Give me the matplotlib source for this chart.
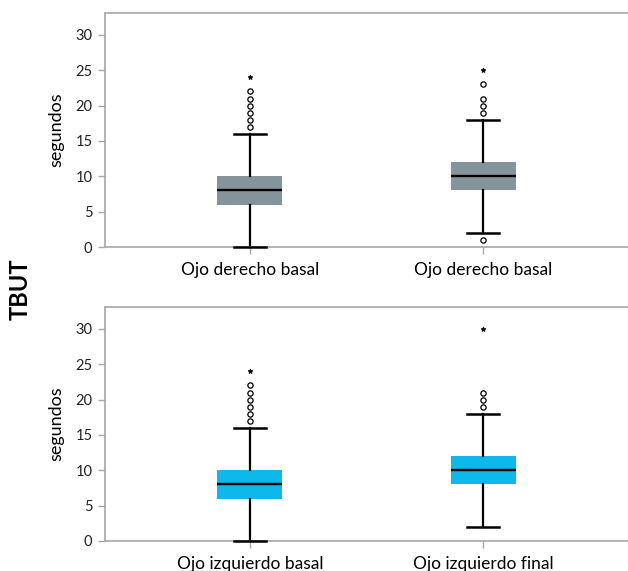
import matplotlib
matplotlib.use("Agg")
import matplotlib.pyplot as plt

plt.rcParams['font.family'] = ['Lato', 'DejaVu Sans']

# Data
top_labels = ["Ojo derecho basal", "Ojo derecho basal"]
bottom_labels = ["Ojo izquierdo basal", "Ojo izquierdo final"]

top_whislo = [0, 2]
top_q1 = [6, 8]
top_med = [8, 10]
top_q3 = [10, 12]
top_whishi = [16, 18]
top_outliers = [[17, 18, 19, 20, 21, 22], [1, 19, 20, 21, 23]]
top_extremes = [[24], [25]]

bot_whislo = [0, 2]
bot_q1 = [6, 8]
bot_med = [8, 10]
bot_q3 = [10, 12]
bot_whishi = [16, 18]
bot_outliers = [[17, 18, 19, 20, 21, 22], [19, 20, 21]]
bot_extremes = [[24], [30]]

yticks = [0, 5, 10, 15, 20, 25, 30]
gray_col = "#85939b"
blue_col = "#0db8eb"
spine_col = "#a6a6a6"

W, H = 628, 571
fig = plt.figure(figsize=(W / 100, H / 100), dpi=100)

def panel(rect, labels, wlo, q1, med, q3, whi, outs, extr, color):
    ax = fig.add_axes(rect)
    stats = []
    for i in range(len(labels)):
        stats.append(dict(label=labels[i], whislo=wlo[i], q1=q1[i], med=med[i],
                          q3=q3[i], whishi=whi[i], fliers=outs[i]))
    pos = list(range(1, len(labels) + 1))
    art = ax.bxp(stats, positions=pos, widths=0.277, patch_artist=True, showfliers=True,
                 capwidths=0.137,
                 boxprops=dict(facecolor=color, edgecolor=color, linewidth=0),
                 medianprops=dict(color="black", linewidth=1.7),
                 whiskerprops=dict(color="black", linewidth=1.6),
                 capprops=dict(color="black", linewidth=1.8),
                 flierprops=dict(marker='o', markersize=3.8, markerfacecolor='white',
                                 markeredgecolor='black', markeredgewidth=0.9,
                                 linestyle='none'))
    for c in art['caps']:
        c.set_clip_on(False)
        c.set_zorder(5)
    for i, ex in enumerate(extr):
        ax.plot([pos[i]] * len(ex), ex, linestyle='none', marker=(5, 1, 0),
                markersize=3.6, color='black', markeredgewidth=0.5)
    ax.set_xlim(0.38, 2.62)
    ax.set_ylim(0, 33.1)
    ax.set_yticks(yticks)
    ax.set_yticklabels([str(t) for t in yticks], fontsize=10.5, color="#222222")
    ax.set_xticks(pos)
    ax.set_xticklabels(labels, fontsize=12.5, color="black")
    ax.tick_params(axis='both', color=spine_col, length=5, width=1)
    ax.tick_params(axis='x', pad=6)
    ax.tick_params(axis='y', pad=4)
    for s in ['left', 'bottom', 'top']:
        ax.spines[s].set_color(spine_col)
        ax.spines[s].set_linewidth(1.2)
    ax.spines['right'].set_visible(False)
    ax.set_ylabel("segundos", fontsize=13, labelpad=8)
    return ax

left = 105 / W
panel([left, 1 - 247 / H, 1 - left, (247 - 13) / H], top_labels,
      top_whislo, top_q1, top_med, top_q3, top_whishi, top_outliers, top_extremes, gray_col)
panel([left, 1 - 541 / H, 1 - left, (541 - 307) / H], bottom_labels,
      bot_whislo, bot_q1, bot_med, bot_q3, bot_whishi, bot_outliers, bot_extremes, blue_col)

fig.text(20 / W, 1 - 289 / H, "TBUT", rotation=90, fontsize=17, fontweight='bold',
         ha='center', va='center')

fig.savefig("out.png", dpi=100)
